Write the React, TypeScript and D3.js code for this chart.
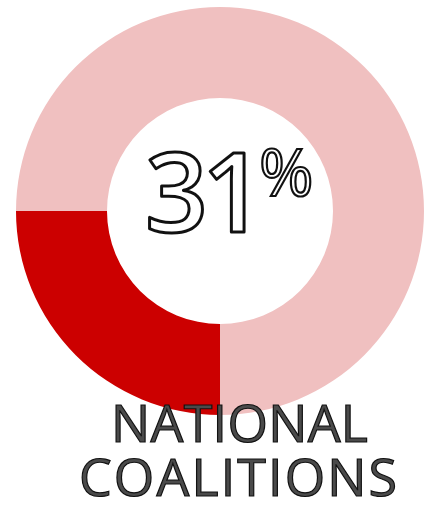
import React, { useEffect, useRef } from "react";
import * as d3 from "d3";

interface Slice {
  name: string;
  value: number;
}

const segments: Slice[] = [
  { name: "National coalitions", value: 25 },
  { name: "Other", value: 75 },
];
const segmentColors = ["#cc0000", "#f0c0c0"];
const centerNumber = "31";
const centerSuffix = "%";
const captionLines = ["NATIONAL", "COALITIONS"];

const App: React.FC = () => {
  const svgRef = useRef<SVGSVGElement>(null);

  useEffect(() => {
    const width = 434;
    const height = 505;
    const cx = 220;
    const cy = 211;
    const outerR = 204;
    const innerR = 113;

    const svg = d3.select(svgRef.current);
    svg.selectAll("*").remove();
    svg.attr("width", width).attr("height", height);

    const pie = d3
      .pie<Slice>()
      .value((d) => d.value)
      .sort(null)
      .startAngle(Math.PI)
      .endAngle(Math.PI * 3);

    const arc = d3
      .arc<d3.PieArcDatum<Slice>>()
      .innerRadius(innerR)
      .outerRadius(outerR);

    const g = svg
      .append("g")
      .attr("transform", "translate(" + cx + "," + cy + ")");

    g.selectAll("path")
      .data(pie(segments))
      .enter()
      .append("path")
      .attr("d", arc)
      .attr("fill", (_d, i) => segmentColors[i]);

    // big number in the hole, outlined like the hand-drawn original
    g.append("text")
      .attr("x", -75)
      .attr("y", 21)
      .style("font-family", "'Open Sans', sans-serif")
      .style("font-weight", 600)
      .style("font-size", "110px")
      .style("letter-spacing", "-6px")
      .attr("fill", "white")
      .attr("stroke", "#111")
      .attr("stroke-width", 3)
      .attr("stroke-linejoin", "round")
      .text(centerNumber);

    g.append("text")
      .attr("x", 39)
      .attr("y", -15)
      .style("font-family", "'Open Sans', sans-serif")
      .style("font-weight", 400)
      .style("font-size", "66px")
      .attr("fill", "white")
      .attr("stroke", "#111")
      .attr("stroke-width", 2.2)
      .text(centerSuffix);

    const caption = svg
      .append("g")
      .style("font-family", "'Open Sans', sans-serif")
      .style("font-size", "52px")
      .attr("fill", "#4a4a4a")
      .attr("stroke", "#111")
      .attr("stroke-width", 1.2);

    caption
      .append("text")
      .attr("x", 111)
      .attr("y", 442)
      .attr("textLength", 257)
      .attr("lengthAdjust", "spacing")
      .text(captionLines[0]);

    caption
      .append("text")
      .attr("x", 79)
      .attr("y", 496)
      .attr("textLength", 318)
      .attr("lengthAdjust", "spacing")
      .text(captionLines[1]);
  }, []);

  return (
    <svg
      ref={svgRef}
      style={{ position: "absolute", left: 0, top: 0, display: "block" }}
    ></svg>
  );
};

export default App;
